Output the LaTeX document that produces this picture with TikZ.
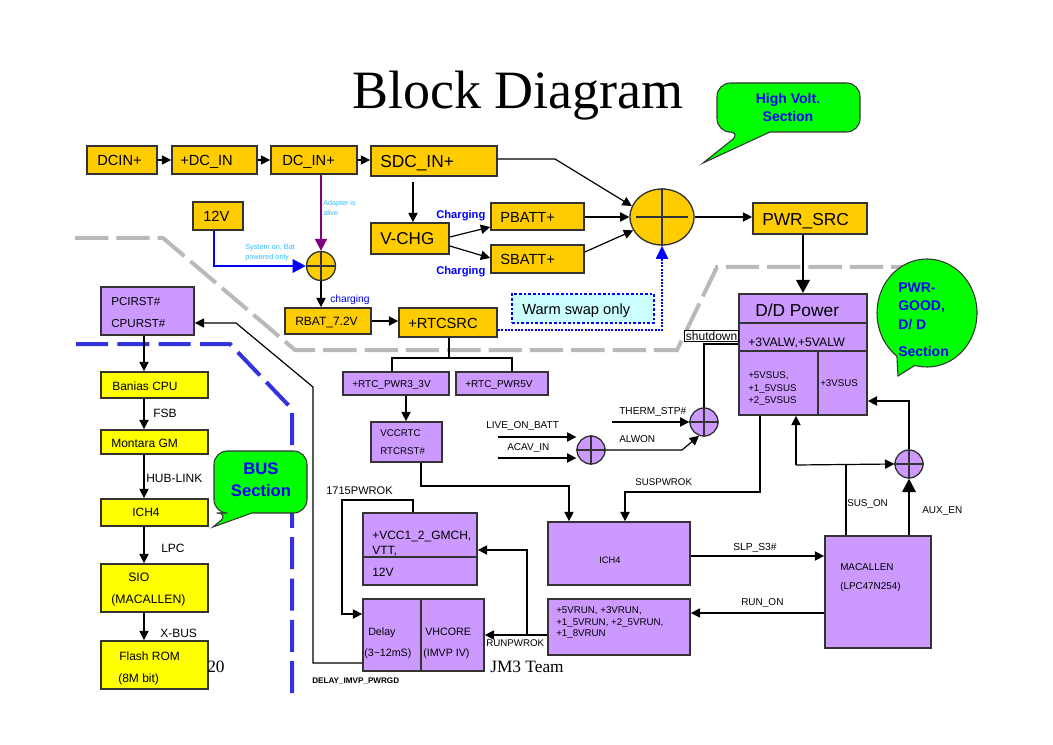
\documentclass[tikz,border=0pt]{standalone}
\usepackage{fontspec}
\setmainfont{Liberation Sans}
\newfontfamily\serifA{Liberation Serif}
\usetikzlibrary{arrows.meta,fit,shapes.geometric,calc}
\definecolor{orng}{HTML}{FFCC00}
\definecolor{purp}{HTML}{CC99FF}
\definecolor{yel}{HTML}{FFFF00}
\definecolor{grn}{HTML}{00FF00}
\definecolor{bubtxt}{HTML}{0000FF}
\definecolor{ltblue}{HTML}{33BBFF}
\definecolor{dashblue}{HTML}{3333DD}
\definecolor{edge}{HTML}{333333}
\definecolor{adaptpurp}{HTML}{800080}
\definecolor{swapfill}{HTML}{CCFFFF}
\tikzset{
  fs/.style={font=\fontsize{#1pt}{#1pt}\selectfont},
  box/.style={draw=edge, line width=1.3pt, inner sep=0pt},
  obox/.style={box, fill=orng},
  pbox/.style={box, fill=purp},
  ybox/.style={box, fill=yel},
  ocirc/.style={circle, draw=edge, line width=1pt, fill=orng, inner sep=0pt},
  pcirc/.style={circle, draw=edge, line width=1pt, fill=purp, inner sep=0pt, minimum size=21pt},
  crossln/.style={draw=edge, line width=0.9pt},
  txt/.style={anchor=west, inner sep=0pt, text depth=0pt},
  con/.style={draw=black, line width=0.9pt},
  arr/.style={con, -{Triangle[length=7pt,width=7pt]}},
  thickarr/.style={draw=black, line width=2.2pt, -{Triangle[length=10pt,width=10pt]}},
  graydash/.style={draw=gray!55, line width=3pt, dash pattern=on 25pt off 6pt},
  bluedash/.style={draw=dashblue, line width=3pt, dash pattern=on 24pt off 7pt},
  bubble/.style={fill=grn, draw=edge, line width=0.8pt},
  bubtext/.style={text=bubtxt, font=\bfseries\fontsize{#1pt}{#1pt}\selectfont, inner sep=0pt, text depth=0pt},
}
\begin{document}
\begin{tikzpicture}[x=0.75pt,y=-0.75pt]
\fill[white] (0,0) rectangle (1053,745);
\useasboundingbox (0,0) rectangle (1053,745);

% section borders
\draw[graydash] (75,238) -- (163,238) -- (295,350) -- (677,350) -- (717,267) -- (930,267);
\draw[bluedash] (76,344) -- (230,344) -- (292,409) -- (292,697);

% title
\node[anchor=base, inner sep=0pt, font=\serifA\fontsize{40.5pt}{40.5pt}\selectfont] (title) at (518,109) {Block Diagram};

% ---------- high voltage section ----------
\node[obox, fit={(87,146)(157,174)}] (dcin) {};
\node[txt, fs=11] at (97,160) {DCIN+};
\node[obox, fit={(172,146)(257,174)}] (dcinb) {};
\node[txt, fs=11] at (180,160) {+DC\_IN};
\node[obox, fit={(271,146)(357,174)}] (dcinc) {};
\node[txt, fs=11] at (282,160) {DC\_IN+};
\node[obox, fit={(371,146)(497,176)}] (sdc) {};
\node[txt, fs=13] at (380,161) {SDC\_IN+};
\node[obox, fit={(193,202)(243,230)}] (vtw) {};
\node[txt, fs=11] at (203,216) {12V};
\node[obox, fit={(371,223)(449,254)}] (vchg) {};
\node[txt, fs=12.8] at (380,239) {V-CHG};
\node[obox, fit={(491,203)(584,230)}] (pbatt) {};
\node[txt, fs=11] at (500,217) {PBATT+};
\node[obox, fit={(491,245)(584,273)}] (sbatt) {};
\node[txt, fs=11] at (500,259) {SBATT+};
\node[obox, fit={(753,203)(867,234)}] (pwrsrc) {};
\node[txt, fs=13] at (762,219) {PWR\_SRC};
\node[obox, fit={(285,308)(371,334)}] (rbat) {};
\node[txt, fs=9] at (295,321) {RBAT\_7.2V};
\node[obox, fit={(399,308)(497,337)}] (rtcsrc) {};
\node[txt, fs=11] at (408,323) {+RTCSRC};

\node[ocirc, minimum size=21.75pt] (cmix) at (321,266) {};
\draw[crossln] (cmix.north) -- (cmix.south) (cmix.west) -- (cmix.east);
\node[ocirc, ellipse, minimum width=48pt, minimum height=42pt] (cbig) at (662,217) {};
\draw[crossln] (cbig.north) -- (cbig.south) ($(cbig.west)!0.1!(cbig.east)$) -- ($(cbig.east)!0.1!(cbig.west)$);

\node[draw=blue, line width=0.9pt, dash pattern=on 2pt off 1.5pt, fill=swapfill, inner sep=0pt, fit={(512,294)(654,323)}] (swap) {};
\node[txt, fs=11] at (522,309) {Warm swap only};

\node[txt, fs=5.4, text=ltblue] at (323,203) {Adapter is};
\node[txt, fs=5.4, text=ltblue] at (323,213) {alive};
\node[txt, fs=5.5, text=ltblue] at (245,247) {System on, Bat};
\node[txt, fs=5.5, text=ltblue] at (245,257) {powered only};
\node[txt, font=\bfseries\fontsize{8.4pt}{8.4pt}\selectfont, text=bubtxt] at (436,214) {Charging};
\node[txt, font=\bfseries\fontsize{8.4pt}{8.4pt}\selectfont, text=bubtxt] at (436,270) {Charging};
\node[txt, fs=7.7, text=bubtxt] at (330,299) {charging};

\draw[arr] (dcin.east) -- (dcinb.west);
\draw[arr] (dcinb.east) -- (dcinc.west);
\draw[arr] (dcinc.east) -- (dcinc.east -| sdc.west);
\coordinate (sdcdn) at (413,182);
\draw[arr] (sdcdn) -- (sdcdn |- vchg.north);
\draw[draw=adaptpurp, line width=1.5pt, -{Triangle[length=9pt,width=9pt]}] (321,0 |- dcinc.south) -- (cmix.north);
\draw[draw=blue, line width=2pt, -{Triangle[length=10pt,width=10pt]}] (214,0 |- vtw.south) |- (cmix.west);
\draw[arr] (cmix.south) -- (cmix.south |- rbat.north);
\draw[arr] (rbat.east) -- (rbat.east -| rtcsrc.west);
\draw[arr] (vchg.east |- 0,237) -- (pbatt.west |- 0,227);
\draw[arr] (vchg.east |- 0,246) -- (sbatt.west |- 0,258);
\draw[arr] (sdc.east |- 0,159) -- (555,159) -- (cbig.160);
\draw[arr] (pbatt.east |- cbig.west) -- (cbig.west);
\draw[arr] (sbatt.east |- 0,252) -- (cbig.205);
\draw[arr] (cbig.east) -- (cbig.east -| pwrsrc.west);
\draw[draw=blue, line width=1.8pt, dash pattern=on 1.5pt off 1pt, -{Triangle[length=10pt,width=9pt]}] (rtcsrc.east |- 0,330) -| (cbig.south);

% ---------- D/D section ----------
\node[pbox, fit={(739,294)(867,415)}] (dd) {};
\draw[box] (dd.west |- 0,323) -- (dd.east |- 0,323) (dd.west |- 0,351) -- (dd.east |- 0,351) (818,351) -- (818,0 |- dd.south);
\node[txt, fs=13] at (755,310) {D/D Power};
\node[txt, fs=9.2] at (748,342) {+3VALW,+5VALW};
\node[txt, fs=7.3] at (748,375) {+5VSUS,};
\node[txt, fs=7.3] at (748,388) {+1\_5VSUS};
\node[txt, fs=7.3] at (748,400) {+2\_5VSUS};
\node[txt, fs=7.3] at (820,383) {+3VSUS};
\draw[thickarr] (803,0 |- pwrsrc.south) -- (803,0 |- dd.north);

\node[draw=black, line width=0.5pt, fill=white, fs=9, inner sep=1pt, anchor=east] (shut) at (739,336) {shutdown};

\node[pcirc] (therm) at (704,422) {};
\draw[crossln] (therm.north) -- (therm.south) (therm.west) -- (therm.east);
\node[pcirc] (alw) at (591,450) {};
\draw[crossln] (alw.north) -- (alw.south) (alw.west) -- (alw.east);
\node[pcirc] (aux) at (909,464) {};
\draw[crossln] (aux.north) -- (aux.south) (aux.west) -- (aux.east);

\draw[con, line width=1.3pt] (therm.north) |- (dd.west |- 0,344);
\coordinate (lob) at (498,437);
\draw[arr] (lob) -- (lob -| alw.west);
\coordinate (acav) at (498,458);
\draw[arr] (acav) -- (acav -| alw.west);
\coordinate (thstp) at (612,422);
\draw[arr] (thstp) -- (therm.west);
\draw[arr] (alw.east) -- (682,450) -- (therm.250);
\node[txt, fs=7.5] at (486,425) {LIVE\_ON\_BATT};
\node[txt, fs=7.5] at (507,447) {ACAV\_IN};
\node[txt, fs=7.6] at (619,411) {THERM\_STP\#};
\node[txt, fs=7.5] at (619,439) {ALWON};

% RTC
\node[pbox, fit={(343,372)(449,395)}] (rtc3) {};
\node[txt, fs=7.5] at (352,384) {+RTC\_PWR3\_3V};
\node[pbox, fit={(456,372)(548,395)}] (rtc5) {};
\node[txt, fs=7.5] at (465,384) {+RTC\_PWR5V};
\node[pbox, fit={(371,422)(442,462)}] (vccrtc) {};
\node[txt, fs=7.3] at (380,433) {VCCRTC};
\node[txt, fs=7.3] at (380,451) {RTCRST\#};
\draw[con] (449,0 |- rtcsrc.south) -- (449,358);
\draw[con] (392,0 |- rtc3.north) |- (512,358) -- (512,0 |- rtc5.north);
\draw[arr] (406,0 |- rtc3.south) -- (406,0 |- vccrtc.north);

% lower right
\node[pbox, fit={(548,522)(690,585)}] (ich4r) {};
\node[fs=7] at (610,560) {ICH4};
\node[pbox, fit={(548,599)(690,655)}] (run) {};
\node[txt, fs=7.3] at (556,610) {+5VRUN, +3VRUN,};
\node[txt, fs=7.3] at (556,622) {+1\_5VRUN, +2\_5VRUN,};
\node[txt, fs=7.3] at (556,633) {+1\_8VRUN};
\node[pbox, fit={(825,536)(931,648)}] (mac) {};
\node[txt, fs=7.4] at (840,567) {MACALLEN};
\node[txt, fs=7.4] at (840,586) {(LPC47N254)};
\node[pbox, fit={(363,513)(477,585)}] (vcc) {};
\draw[box] (vcc.west |- 0,557) -- (vcc.east |- 0,557);
\node[txt, fs=9] at (372,535) {+VCC1\_2\_GMCH,};
\node[txt, fs=9] at (372,550) {VTT,};
\node[txt, fs=9] at (372,572) {12V};
\node[pbox, fit={(363,599)(484,671)}] (delay) {};
\draw[box] (421,0 |- delay.north) -- (421,0 |- delay.south);
\node[txt, fs=8] at (368,632) {Delay};
\node[txt, fs=8] at (364,653) {(3\textasciitilde 12mS)};
\node[txt, fs=8] at (425,632) {VHCORE};
\node[txt, fs=8] at (423,653) {(IMVP IV)};

\draw[arr] (421,0 |- vccrtc.south) -- (421,486) -| (569,0 |- ich4r.north);
\draw[arr, line width=1.3pt] (760,0 |- dd.south) -- (760,492) -| (625,0 |- ich4r.north);
\node[txt, fs=7.3] at (635,482) {SUSPWROK};
\coordinate (susj) at (796,465);
\draw[con] (846,0 |- mac.north) -- (846,465);
\draw[arr] (susj) -- (aux.west);
\draw[arr] (susj) -- (susj |- dd.south);
\node[txt, fs=7.4] at (847,503) {SUS\_ON};
\draw[thickarr, line width=1.8pt] (aux.south |- mac.north) -- (aux.south);
\node[txt, fs=7.5] at (922,510) {AUX\_EN};
\draw[arr, line width=1.3pt] (aux.north) |- (dd.east |- 0,401);
\draw[arr] (ich4r.east |- 0,556) -- (mac.west |- 0,556);
\node[txt, fs=7.7] at (733,547) {SLP\_S3\#};
\draw[arr] (mac.west |- 0,613) -- (run.east |- 0,613);
\node[txt, fs=7.5] at (741,602) {RUN\_ON};
\draw[arr] (run.west |- 0,635) -- (delay.east |- 0,635);
\draw[arr] (527,635) |- (vcc.east |- 0,550);
\node[txt, fs=7.3] at (486,643) {RUNPWROK};
\draw[arr] (413,0 |- vcc.north) -- (413,500) -- (342,500) |- (delay.west |- 0,614);
\node[txt, fs=8.3] at (326,491) {1715PWROK};
\node[txt, font=\bfseries\fontsize{6.1pt}{6.1pt}\selectfont] at (312,681) {DELAY\_IMVP\_PWRGD};

% ---------- bus section ----------
\node[pbox, fit={(101,287)(194,335)}] (pci) {};
\node[txt, fs=8.7] at (111,301) {PCIRST\#};
\node[txt, fs=8.7] at (111,323) {CPURST\#};
\node[ybox, fit={(101,372)(208,398)}] (banias) {};
\node[txt, fs=9] at (112,386) {Banias CPU};
\node[ybox, fit={(101,430)(208,454)}] (montara) {};
\node[txt, fs=9] at (111,443) {Montara GM};
\node[ybox, fit={(101,499)(208,526)}] (ichl) {};
\node[txt, fs=9] at (132,512) {ICH4};
\node[ybox, fit={(101,564)(208,612)}] (sio) {};
\node[txt, fs=9.2] at (128,577) {SIO};
\node[txt, fs=9.2] at (111,599) {(MACALLEN)};
\node[ybox, fit={(101,641)(208,689)}] (flash) {};
\node[txt, fs=9] at (119,656) {Flash ROM};
\node[txt, fs=9] at (118,678) {(8M bit)};
\draw[arr] (144,0 |- pci.south) -- (144,0 |- banias.north);
\draw[arr] (144,0 |- banias.south) -- (144,0 |- montara.north);
\draw[arr] (144,0 |- montara.south) -- (144,0 |- ichl.north);
\draw[arr] (144,0 |- ichl.south) -- (144,0 |- sio.north);
\draw[arr] (144,0 |- sio.south) -- (144,0 |- flash.north);
\node[txt, fs=9] at (153,413) {FSB};
\node[txt, fs=9] at (146,478) {HUB-LINK};
\node[txt, fs=9] at (161,548) {LPC};
\node[txt, fs=9] at (160,633) {X-BUS};
\draw[arr] (delay.west |- 0,663) -- (313,663) -- (313,387) -- (236,323) -- (pci.east |- 0,323);

\node[anchor=base west, inner sep=0pt, font=\serifA\fontsize{13pt}{13pt}\selectfont] at (490,672) {JM3 Team};
\node[anchor=base west, inner sep=0pt, font=\serifA\fontsize{13pt}{13pt}\selectfont] at (207,672) {20};

% ---------- callouts ----------
\draw[bubble] (742,132) -- (703,163) -- (770,132) [rounded corners=10pt] -- (860,132) -- (860,83) -- (717,83) -- (717,132) -- cycle;
\node[bubtext=10.5] at (788,98) {High Volt.};
\node[bubtext=10.5] at (788,116) {Section};
\draw[bubble] (230,513) -- (213,527) -- (252,513) [rounded corners=10pt] -- (307,513) -- (307,451) -- (214,451) -- (214,513) -- cycle;
\node[bubtext=12.5] at (261,469) {BUS};
\node[bubtext=12.5] at (261,490) {Section};
\draw[bubble] (898,376) -- plot[domain=127:464, samples=90, variable=\t] ({927+50*cos(\t)},{313+54*sin(\t)}) -- cycle;
\node[bubtext=10.5, anchor=west] at (898,288) {PWR-};
\node[bubtext=10.5, anchor=west] at (898,306) {GOOD,};
\node[bubtext=10.5, anchor=west] at (898,324) {D/ D};
\node[bubtext=10.5, anchor=west] at (898,351) {Section};
\end{tikzpicture}
\end{document}
